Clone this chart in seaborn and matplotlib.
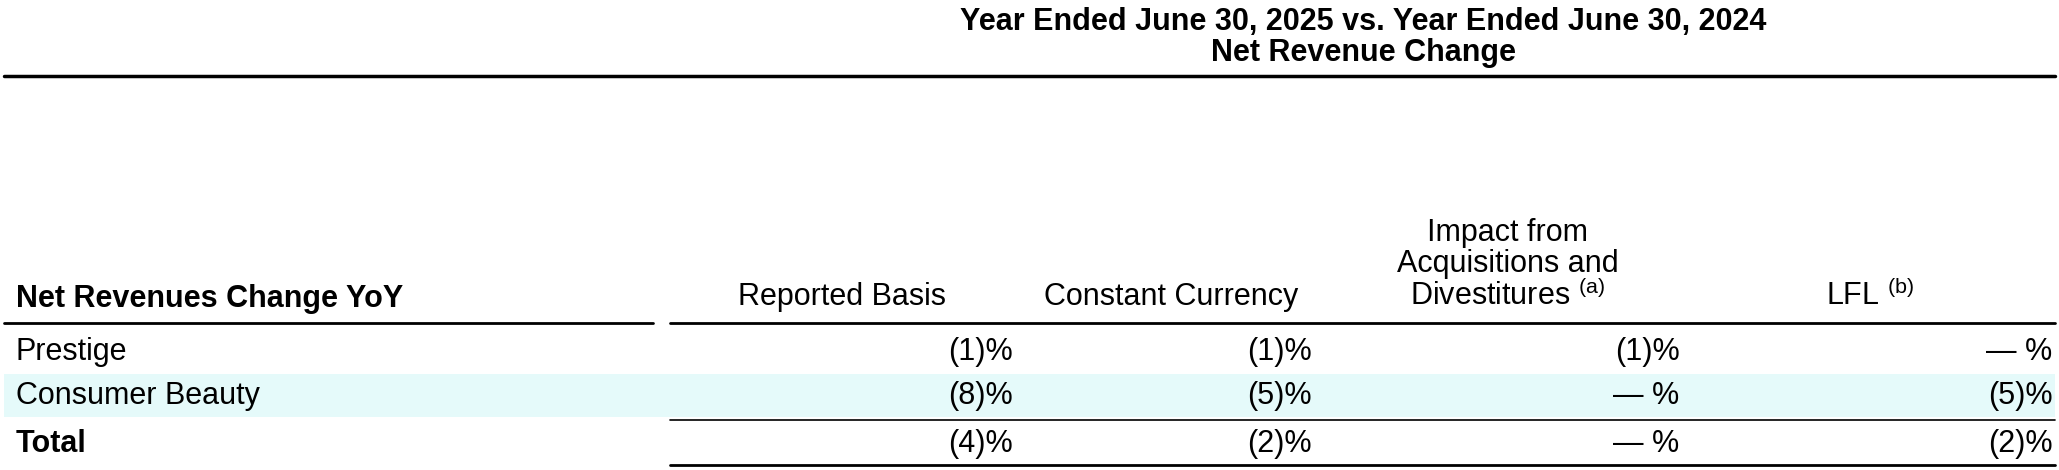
import matplotlib
matplotlib.use('Agg')
import matplotlib.pyplot as plt
import seaborn as sns

sns.set_theme(style='white')
plt.rcParams['font.family'] = 'Liberation Sans'
plt.rcParams['text.color'] = 'black'
plt.rcParams['mathtext.fontset'] = 'custom'
plt.rcParams['mathtext.rm'] = 'Liberation Sans'

title_lines = ['Year Ended June 30, 2025 vs. Year Ended June 30, 2024', 'Net Revenue Change']
row_header = 'Net Revenues Change YoY'
col_headers = ['Reported Basis', 'Constant Currency',
               'Impact from\nAcquisitions and\nDivestitures $^{\\rm (a)}$', 'LFL $^{\\rm (b)}$']
row_labels = ['Prestige', 'Consumer Beauty', 'Total']
reported = ['(1)%', '(8)%', '(4)%']
constant = ['(1)%', '(5)%', '(2)%']
acq_div = ['(1)%', '— %', '— %']
lfl = ['— %', '(5)%', '(2)%']

W, H = 1568, 358
fig = plt.figure(figsize=(20.59, 4.70), dpi=100)
ax = fig.add_axes([0, 0, 1, 1])
ax.set_xlim(0, W)
ax.set_ylim(H, 0)
ax.axis('off')

fs = 22
ax.text(1038, 17, title_lines[0], ha='center', va='center', fontsize=fs, fontweight='bold')
ax.text(1038, 40, title_lines[1], ha='center', va='center', fontsize=fs, fontweight='bold')
ax.plot([3, 1565], [58, 58], color='black', lw=2.5)

ax.text(12, 228, row_header, ha='left', va='center', fontsize=fs, fontweight='bold')
col_centers = [641, 892, 1148, 1424]
for cx, h in zip(col_centers, col_headers):
    ax.text(cx, 238, h, ha='center', va='bottom', fontsize=fs, linespacing=1.05)
ax.plot([3, 497], [246, 246], color='black', lw=2)
ax.plot([510, 1565], [246, 246], color='black', lw=2)

ax.axhspan(285, 318, xmin=3 / W, xmax=1565 / W, color='#e5fafa', lw=0)
row_y = [268, 302, 338]
col_right = [771, 999, 1279, 1563]
for i, lab in enumerate(row_labels):
    bold = 'bold' if lab == 'Total' else 'normal'
    ax.text(12, row_y[i], lab, ha='left', va='center', fontsize=fs, fontweight=bold)
    for xr, vals in zip(col_right, [reported, constant, acq_div, lfl]):
        ax.text(xr, row_y[i], vals[i], ha='right', va='center', fontsize=fs)
ax.plot([510, 1565], [320, 320], color='black', lw=1.2)
ax.plot([510, 1565], [354, 354], color='black', lw=2)

fig.savefig('out.png', dpi=100)
